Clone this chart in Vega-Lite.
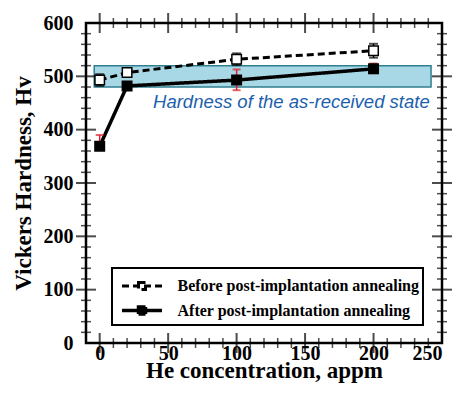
{
  "$schema": "https://vega.github.io/schema/vega-lite/v6.json",
  "width": 356,
  "height": 320,
  "autosize": "none",
  "padding": {"left": 86, "top": 23, "right": 18, "bottom": 56},
  "background": "white",
  "config": {
    "view": {"stroke": "black", "strokeWidth": 2.5},
    "legend": {"strokeWidth": 2},
    "axis": {"domain": false, "grid": false, "ticks": false, "tickSize": 0, "labelColor": "black", "titleColor": "black", "labelFont": "Liberation Serif", "labelFontWeight": "bold", "labelFontSize": 20, "titleFont": "Liberation Serif", "titleFontWeight": "bold", "titleFontSize": 23}
  },
  "datasets": {
    "pts": [
      {"series": "Before post-implantation annealing", "he": 0, "hv": 493, "lo": 482, "hi": 504},
      {"series": "Before post-implantation annealing", "he": 20, "hv": 507, "lo": 500, "hi": 514},
      {"series": "Before post-implantation annealing", "he": 100, "hv": 532, "lo": 521, "hi": 543},
      {"series": "Before post-implantation annealing", "he": 200, "hv": 548, "lo": 535, "hi": 561},
      {"series": "After post-implantation annealing", "he": 0, "hv": 369, "lo": 362, "hi": 390},
      {"series": "After post-implantation annealing", "he": 20, "hv": 482, "lo": 478, "hi": 486},
      {"series": "After post-implantation annealing", "he": 100, "hv": 493, "lo": 474, "hi": 513},
      {"series": "After post-implantation annealing", "he": 200, "hv": 514, "lo": 506, "hi": 524}
    ],
    "band": [{"xa": -4, "xb": 242, "ya": 480, "yb": 520}],
    "note": [{"he": 241, "hv": 441, "label": "Hardness of the as-received state"}],
    "xticks": [
      {"v": 0, "kind": "major"}, {"v": 50, "kind": "major"}, {"v": 100, "kind": "major"}, {"v": 150, "kind": "major"}, {"v": 200, "kind": "major"},
      {"v": 10, "kind": "minor"}, {"v": 20, "kind": "minor"}, {"v": 30, "kind": "minor"}, {"v": 40, "kind": "minor"},
      {"v": 60, "kind": "minor"}, {"v": 70, "kind": "minor"}, {"v": 80, "kind": "minor"}, {"v": 90, "kind": "minor"},
      {"v": 110, "kind": "minor"}, {"v": 120, "kind": "minor"}, {"v": 130, "kind": "minor"}, {"v": 140, "kind": "minor"},
      {"v": 160, "kind": "minor"}, {"v": 170, "kind": "minor"}, {"v": 180, "kind": "minor"}, {"v": 190, "kind": "minor"},
      {"v": 210, "kind": "minor"}, {"v": 220, "kind": "minor"}, {"v": 230, "kind": "minor"}, {"v": 240, "kind": "minor"}
    ],
    "yticks": [
      {"v": 100, "kind": "major"}, {"v": 200, "kind": "major"}, {"v": 300, "kind": "major"}, {"v": 400, "kind": "major"}, {"v": 500, "kind": "major"},
      {"v": 20, "kind": "minor"}, {"v": 40, "kind": "minor"}, {"v": 60, "kind": "minor"}, {"v": 80, "kind": "minor"},
      {"v": 120, "kind": "minor"}, {"v": 140, "kind": "minor"}, {"v": 160, "kind": "minor"}, {"v": 180, "kind": "minor"},
      {"v": 220, "kind": "minor"}, {"v": 240, "kind": "minor"}, {"v": 260, "kind": "minor"}, {"v": 280, "kind": "minor"},
      {"v": 320, "kind": "minor"}, {"v": 340, "kind": "minor"}, {"v": 360, "kind": "minor"}, {"v": 380, "kind": "minor"},
      {"v": 420, "kind": "minor"}, {"v": 440, "kind": "minor"}, {"v": 460, "kind": "minor"}, {"v": 480, "kind": "minor"},
      {"v": 520, "kind": "minor"}, {"v": 540, "kind": "minor"}, {"v": 560, "kind": "minor"}, {"v": 580, "kind": "minor"}
    ]
  },
  "layer": [
    {
      "data": {"name": "band"},
      "mark": {"type": "rect", "fill": "#a8d8e5", "stroke": "#2f7f90", "strokeWidth": 1.5},
      "encoding": {
        "x": {"field": "xa", "type": "quantitative", "scale": {"domain": [-10, 250], "nice": false, "zero": false},
          "axis": {"orient": "bottom", "values": [0, 50, 100, 150, 200, 250], "labelPadding": 0, "title": "He concentration, appm", "titlePadding": -4}},
        "x2": {"field": "xb"},
        "y": {"field": "ya", "type": "quantitative", "scale": {"domain": [0, 600], "nice": false},
          "axis": {"orient": "left", "values": [0, 100, 200, 300, 400, 500, 600], "labelPadding": 13, "title": "Vickers Hardness, Hv", "titlePadding": 8}},
        "y2": {"field": "yb"}
      }
    },
    {
      "data": {"name": "xticks"},
      "transform": [{"filter": "datum.kind === 'major'"}],
      "mark": {"type": "tick", "orient": "vertical", "color": "black", "thickness": 2, "size": 20},
      "encoding": {"x": {"field": "v", "type": "quantitative"}, "y": {"datum": 0}}
    },
    {
      "data": {"name": "xticks"},
      "transform": [{"filter": "datum.kind === 'major'"}],
      "mark": {"type": "tick", "orient": "vertical", "color": "black", "thickness": 2, "size": 20},
      "encoding": {"x": {"field": "v", "type": "quantitative"}, "y": {"datum": 600}}
    },
    {
      "data": {"name": "xticks"},
      "transform": [{"filter": "datum.kind === 'minor'"}],
      "mark": {"type": "tick", "orient": "vertical", "color": "black", "thickness": 1.5, "size": 10},
      "encoding": {"x": {"field": "v", "type": "quantitative"}, "y": {"datum": 0}}
    },
    {
      "data": {"name": "xticks"},
      "transform": [{"filter": "datum.kind === 'minor'"}],
      "mark": {"type": "tick", "orient": "vertical", "color": "black", "thickness": 1.5, "size": 10},
      "encoding": {"x": {"field": "v", "type": "quantitative"}, "y": {"datum": 600}}
    },
    {
      "data": {"name": "yticks"},
      "transform": [{"filter": "datum.kind === 'major'"}],
      "mark": {"type": "tick", "orient": "horizontal", "color": "black", "thickness": 2, "size": 20},
      "encoding": {"y": {"field": "v", "type": "quantitative"}, "x": {"datum": -10}}
    },
    {
      "data": {"name": "yticks"},
      "transform": [{"filter": "datum.kind === 'major'"}],
      "mark": {"type": "tick", "orient": "horizontal", "color": "black", "thickness": 2, "size": 20},
      "encoding": {"y": {"field": "v", "type": "quantitative"}, "x": {"datum": 250}}
    },
    {
      "data": {"name": "yticks"},
      "transform": [{"filter": "datum.kind === 'minor'"}],
      "mark": {"type": "tick", "orient": "horizontal", "color": "black", "thickness": 1.5, "size": 10},
      "encoding": {"y": {"field": "v", "type": "quantitative"}, "x": {"datum": -10}}
    },
    {
      "data": {"name": "yticks"},
      "transform": [{"filter": "datum.kind === 'minor'"}],
      "mark": {"type": "tick", "orient": "horizontal", "color": "black", "thickness": 1.5, "size": 10},
      "encoding": {"y": {"field": "v", "type": "quantitative"}, "x": {"datum": 250}}
    },
    {
      "data": {"name": "note"},
      "mark": {"type": "text", "align": "right", "baseline": "alphabetic", "font": "Liberation Sans", "fontStyle": "italic", "fontSize": 18.5, "color": "#1c5fae"},
      "encoding": {
        "x": {"field": "he", "type": "quantitative"},
        "y": {"field": "hv", "type": "quantitative"},
        "text": {"field": "label"}
      }
    },
    {
      "data": {"name": "pts"},
      "mark": {"type": "line", "color": "black"},
      "encoding": {
        "x": {"field": "he", "type": "quantitative"},
        "y": {"field": "hv", "type": "quantitative"},
        "detail": {"field": "series"},
        "strokeWidth": {"field": "series", "type": "nominal", "scale": {"domain": ["Before post-implantation annealing", "After post-implantation annealing"], "range": [3, 3.5]}, "legend": null},
        "strokeDash": {"field": "series", "type": "nominal", "scale": {"domain": ["Before post-implantation annealing", "After post-implantation annealing"], "range": [[7, 4], [1, 0]]},
          "legend": {"title": null, "orient": "none", "legendX": 26, "legendY": 245, "symbolType": "M-1.6,0H1.6M-0.28,-0.28H0.28V0.28H-0.28Z", "symbolSize": 625, "symbolOffset": 11.5, "symbolStrokeColor": "black", "symbolStrokeWidth": 2.2, "labelOffset": 21, "labelFont": "Liberation Serif", "labelFontWeight": "bold", "labelFontSize": 16, "labelColor": "black", "labelLimit": 400, "padding": 4, "rowPadding": 0, "strokeColor": "black", "fillColor": "white"}}
      }
    },
    {
      "data": {"name": "pts"},
      "transform": [{"filter": "datum.series === 'Before post-implantation annealing'"}],
      "mark": {"type": "rule", "strokeWidth": 1.5, "color": "black"},
      "encoding": {
        "x": {"field": "he", "type": "quantitative"},
        "y": {"field": "lo", "type": "quantitative"},
        "y2": {"field": "hi"}
      }
    },
    {
      "data": {"name": "pts"},
      "transform": [{"filter": "datum.series === 'After post-implantation annealing'"}],
      "mark": {"type": "rule", "strokeWidth": 1.5, "color": "#e0202a"},
      "encoding": {
        "x": {"field": "he", "type": "quantitative"},
        "y": {"field": "lo", "type": "quantitative"},
        "y2": {"field": "hi"}
      }
    },
    {
      "data": {"name": "pts"},
      "transform": [{"filter": "datum.series === 'Before post-implantation annealing'"}, {"fold": ["lo", "hi"], "as": ["end", "val"]}],
      "mark": {"type": "tick", "orient": "horizontal", "size": 9, "thickness": 2, "color": "black"},
      "encoding": {
        "x": {"field": "he", "type": "quantitative"},
        "y": {"field": "val", "type": "quantitative"}
      }
    },
    {
      "data": {"name": "pts"},
      "transform": [{"filter": "datum.series === 'After post-implantation annealing'"}, {"fold": ["lo", "hi"], "as": ["end", "val"]}],
      "mark": {"type": "tick", "orient": "horizontal", "size": 8, "thickness": 2, "color": "#e0202a"},
      "encoding": {
        "x": {"field": "he", "type": "quantitative"},
        "y": {"field": "val", "type": "quantitative"}
      }
    },
    {
      "data": {"name": "pts"},
      "mark": {"type": "point", "shape": "square", "stroke": "black", "strokeWidth": 1.5, "opacity": 1, "size": 90},
      "encoding": {
        "x": {"field": "he", "type": "quantitative"},
        "y": {"field": "hv", "type": "quantitative"},
        "fill": {"field": "series", "type": "nominal", "scale": {"domain": ["Before post-implantation annealing", "After post-implantation annealing"], "range": ["white", "black"]},
          "legend": {"title": null, "orient": "none", "legendX": 26, "legendY": 245, "symbolType": "M-1.6,0H1.6M-0.28,-0.28H0.28V0.28H-0.28Z", "symbolSize": 625, "symbolOffset": 11.5, "symbolStrokeColor": "black", "symbolStrokeWidth": 2.2, "labelOffset": 21, "labelFont": "Liberation Serif", "labelFontWeight": "bold", "labelFontSize": 16, "labelColor": "black", "labelLimit": 400, "padding": 4, "rowPadding": 0, "strokeColor": "black", "fillColor": "white"}}
      }
    }
  ]
}
